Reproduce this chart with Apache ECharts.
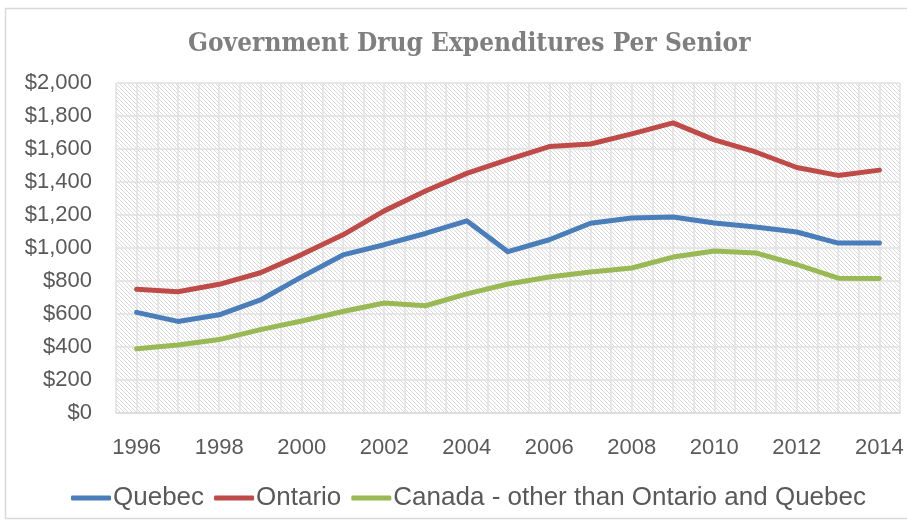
<!DOCTYPE html>
<html>
<head>
<meta charset="utf-8">
<script src="https://cdn.jsdelivr.net/npm/echarts@6/dist/echarts.min.js"></script>
<style>
  html, body { margin: 0; padding: 0; background: #fff; }
  #chart { width: 907px; height: 523px; }
</style>
</head>
<body>
<div id="chart"></div>
<script>
// values
const years = [1996, 1997, 1998, 1999, 2000, 2001, 2002, 2003, 2004, 2005,
  2006, 2007, 2008, 2009, 2010, 2011, 2012, 2013, 2014];
const quebec = [610, 555, 595, 685, 825, 958, 1020, 1088, 1165, 978,
  1050, 1150, 1182, 1188, 1152, 1127, 1097, 1030, 1030];
const ontario = [750, 735, 780, 850, 960, 1080, 1225, 1345, 1452, 1535,
  1615, 1630, 1692, 1758, 1655, 1582, 1488, 1440, 1472];
const otherCanada = [390, 412, 445, 505, 558, 615, 667, 650, 722, 782,
  824, 855, 879, 945, 982, 970, 900, 817, 815];
const seriesNames = ['Quebec', 'Ontario', 'Canada - other than Ontario and Quebec'];
const seriesColors = ['#4a7ebb', '#be4b48', '#98b954'];

// hatched plot background, like the excel pattern fill
function hatchPattern() {
  const s = 4;
  const c = document.createElement('canvas');
  c.width = s; c.height = s;
  const ctx = c.getContext('2d');
  ctx.fillStyle = '#ffffff';
  ctx.fillRect(0, 0, s, s);
  ctx.strokeStyle = '#d9d9d9';
  ctx.lineWidth = 1;
  ctx.beginPath();
  ctx.moveTo(-1, -1); ctx.lineTo(s + 1, s + 1);
  ctx.moveTo(-1, s - 1); ctx.lineTo(1, s + 1);
  ctx.moveTo(s - 1, -1); ctx.lineTo(s + 1, 1);
  ctx.stroke();
  return c;
}

function pairs(vals) {
  return years.map((y, i) => [y, vals[i]]);
}

const chart = echarts.init(document.getElementById('chart'));
const textFont = '"Liberation Sans", Arial, sans-serif';

chart.setOption({
  backgroundColor: '#ffffff',
  animation: false,
  title: {
    text: 'Government Drug Expenditures Per Senior',
    left: 183,
    top: 26,
    textStyle: {
      fontFamily: '"DejaVu Serif Condensed", "Liberation Serif", serif',
      fontWeight: 'bold',
      fontSize: 26,
      color: '#7f7f7f'
    }
  },
  graphic: [{
    type: 'rect',
    shape: { x: 5.5, y: 8.5, width: 960, height: 510 },
    style: { fill: null, stroke: '#d9d9d9', lineWidth: 1.5 },
    z: -1
  }],
  legend: {
    data: seriesNames,
    left: 66,
    top: 480,
    icon: 'roundRect',
    itemWidth: 40,
    itemHeight: 5,
    itemGap: 10,
    textStyle: { fontFamily: textFont, fontSize: 26, color: '#595959', padding: [0, 0, 0, -3] }
  },
  grid: {
    left: 116,
    right: 7,
    top: 83,
    bottom: 110,
    show: true,
    borderWidth: 0,
    backgroundColor: { image: hatchPattern(), repeat: 'repeat' }
  },
  xAxis: {
    type: 'value',
    min: 1995.5,
    max: 2014.5,
    interval: 0.5,
    axisLine: { show: true, lineStyle: { color: '#d9d9d9', width: 1.5 } },
    axisTick: { show: false },
    splitLine: { show: true, lineStyle: { color: '#e0e0e0', width: 1.5 } },
    axisLabel: {
      margin: 24,
      fontFamily: textFont,
      fontSize: 22,
      color: '#595959',
      showMinLabel: true,
      showMaxLabel: true,
      formatter: function (v) {
        return (Number.isInteger(v) && v % 2 === 0) ? String(v) : '';
      }
    }
  },
  yAxis: {
    type: 'value',
    min: 0,
    max: 2000,
    interval: 200,
    axisLine: { show: false },
    axisTick: { show: false },
    splitLine: { lineStyle: { color: '#e0e0e0', width: 1.5 } },
    axisLabel: {
      margin: 24,
      fontFamily: textFont,
      fontSize: 22,
      color: '#595959',
      formatter: function (v) {
        return '$' + v.toLocaleString('en-US');
      }
    }
  },
  series: [quebec, ontario, otherCanada].map((vals, i) => ({
    name: seriesNames[i],
    type: 'line',
    data: pairs(vals),
    symbol: 'none',
    lineStyle: { width: 5, color: seriesColors[i], cap: 'round', join: 'round' },
    itemStyle: { color: seriesColors[i] }
  }))
});
</script>
</body>
</html>
